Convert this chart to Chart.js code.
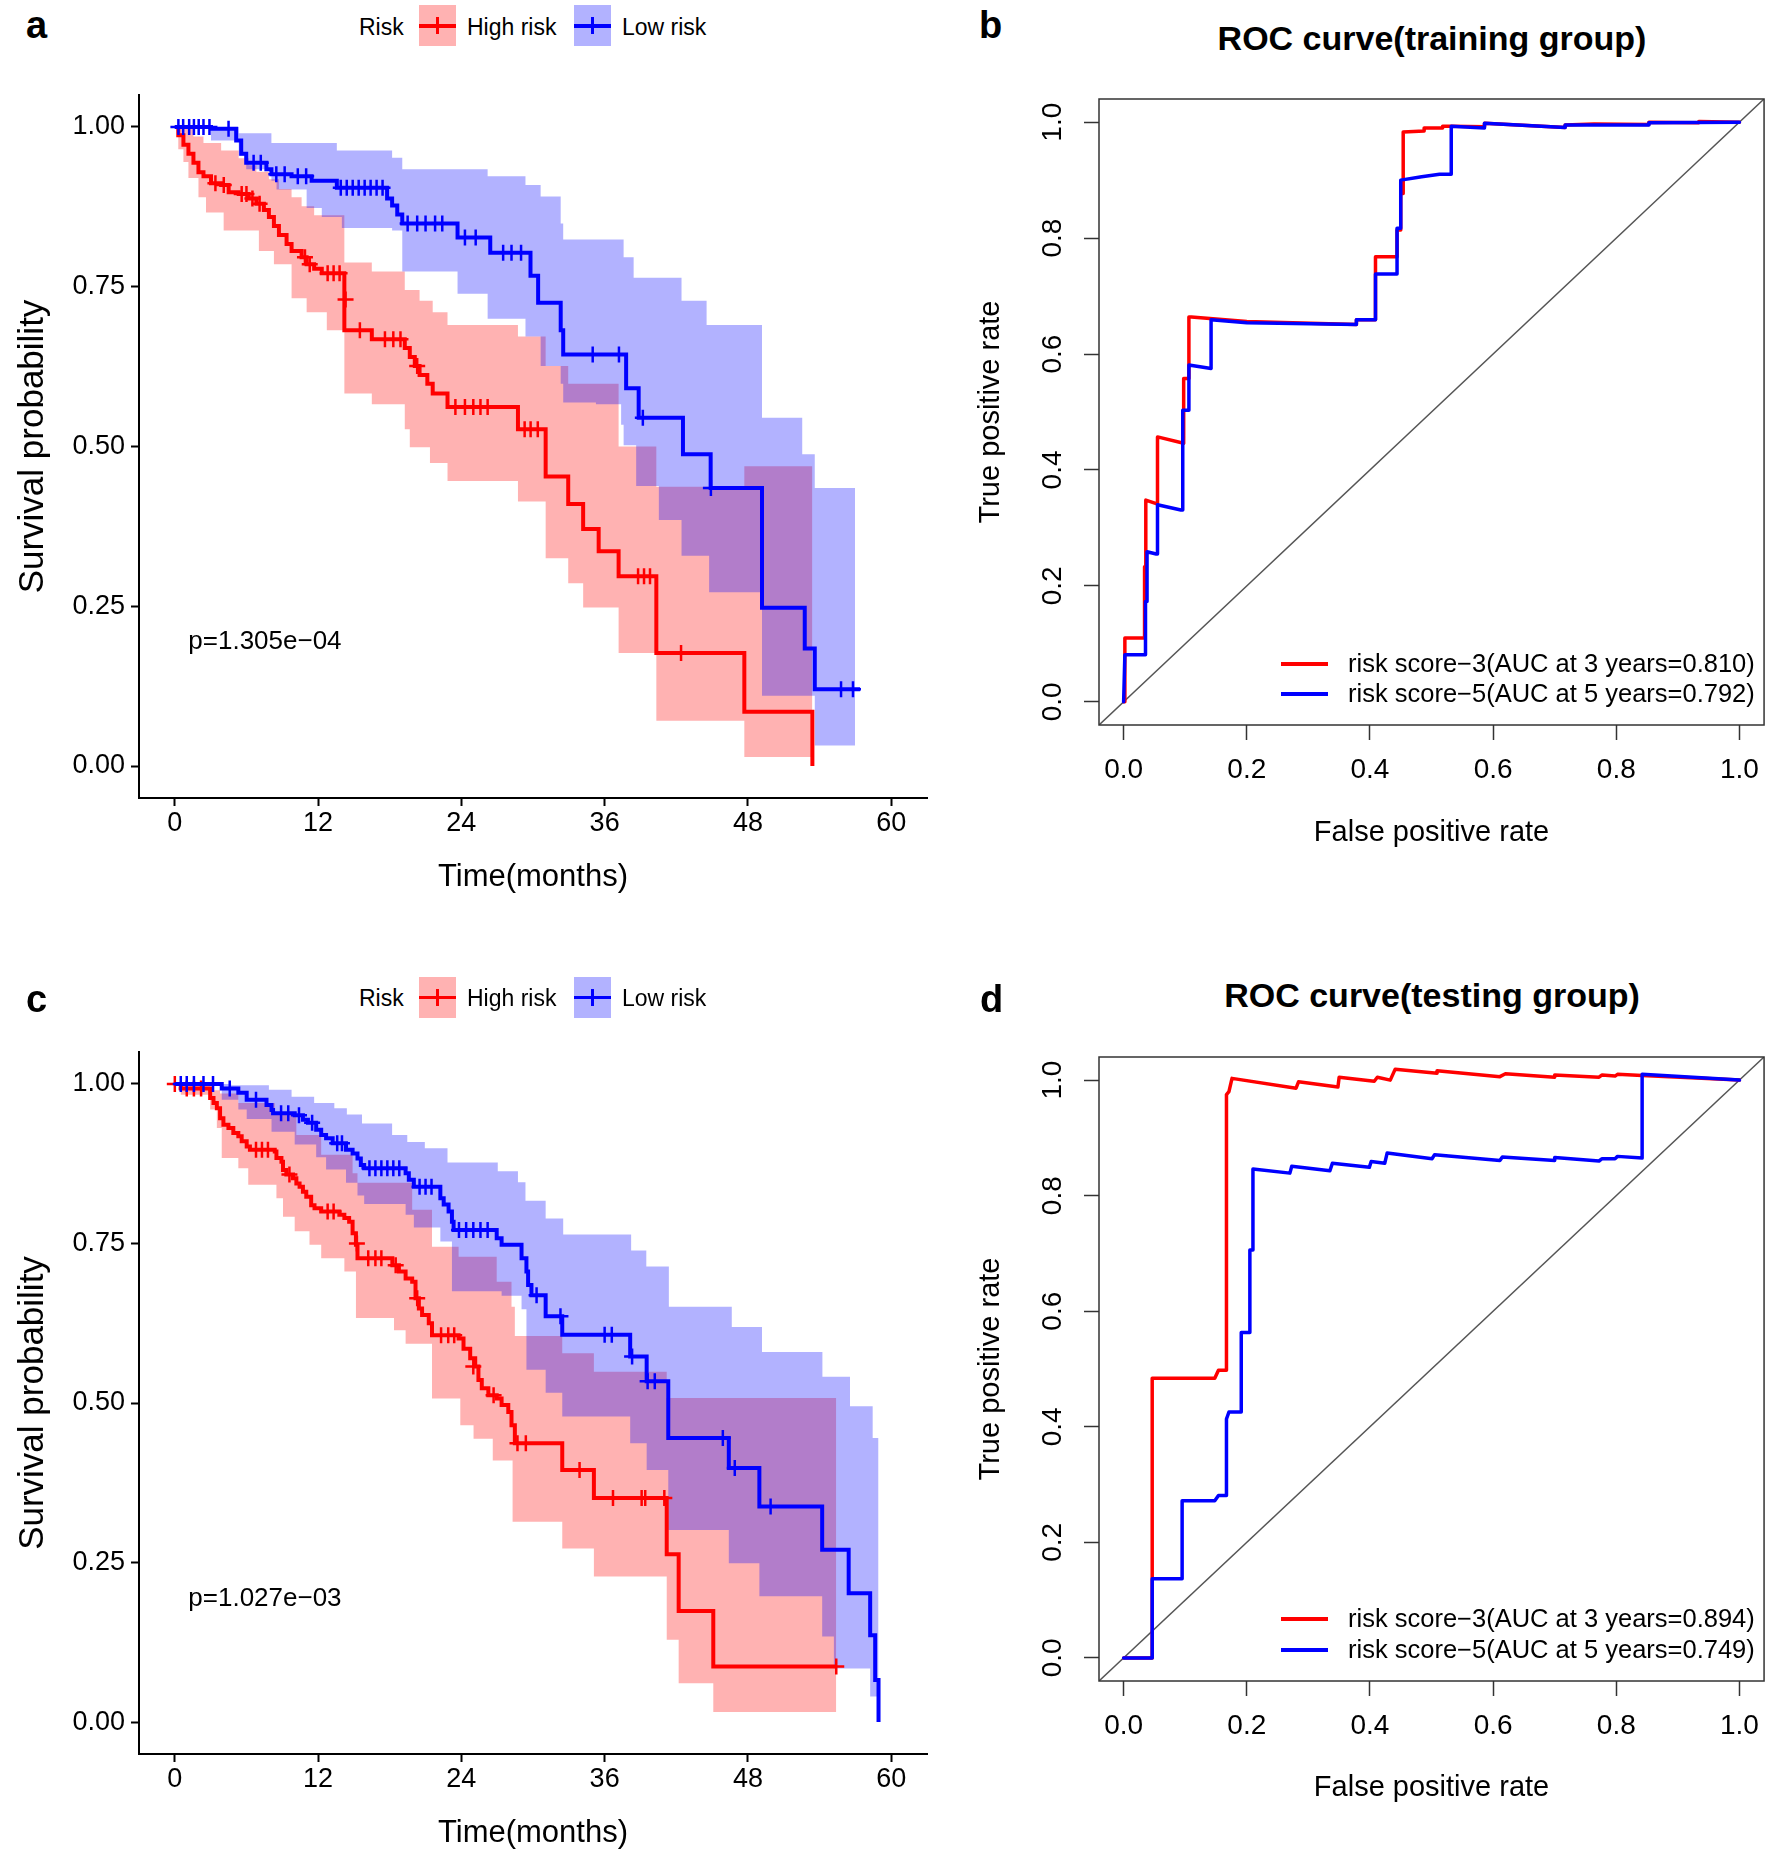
<!DOCTYPE html>
<html>
<head>
<meta charset="utf-8">
<script src="https://cdn.jsdelivr.net/npm/chart.js@4.4.1/dist/chart.umd.min.js"></script>
<style>
html,body{margin:0;padding:0;background:#fff;}
#page{position:relative;width:1772px;height:1858px;overflow:hidden;background:#fff;font-family:"Liberation Sans",Arial,Helvetica,sans-serif;}
canvas{position:absolute;}
.t{position:absolute;white-space:nowrap;line-height:1;color:#000;}
.sw{position:absolute;}
.sw div{position:absolute;}
</style>
</head>
<body>
<div id="page"></div>
<script>
// ---------------- tick marks / labels ----------------
const kmXTicks = [0, 12, 24, 36, 48, 60];
const kmXLabels = ['0', '12', '24', '36', '48', '60'];
const kmYTicks = [0, 0.25, 0.5, 0.75, 1];
const kmYLabels = ['0.00', '0.25', '0.50', '0.75', '1.00'];
const rocTicks = [0, 0.2, 0.4, 0.6, 0.8, 1];
const rocLabels = ['0.0', '0.2', '0.4', '0.6', '0.8', '1.0'];
const kmXRange = [-3, 63];
const kmYRange = [-0.05, 1.05];
const rocRange = [-0.04, 1.04];

// ---------------- text ----------------
const panelLetters = ['a', 'b', 'c', 'd'];
const legendTitle = 'Risk';
const groupNames = ['High risk', 'Low risk'];
const kmXTitle = 'Time(months)';
const kmYTitle = 'Survival probability';
const rocXTitle = 'False positive rate';
const rocYTitle = 'True positive rate';
const rocTitles = ['ROC curve(training group)', 'ROC curve(testing group)'];
const pvalA = { text: 'p=1.305e\u221204', x: 1.13, y: 0.194 };
const pvalC = { text: 'p=1.027e\u221203', x: 1.13, y: 0.193 };
const rocLegendB = ['risk score\u22123(AUC at 3 years=0.810)', 'risk score\u22125(AUC at 5 years=0.792)'];
const rocLegendD = ['risk score\u22123(AUC at 3 years=0.894)', 'risk score\u22125(AUC at 5 years=0.749)'];

// ---------------- panel a : KM (training) [time, survival] ----------------
const aHigh = [[0,1],[0.29,0.987],[0.72,0.972],[1.14,0.958],[1.56,0.944],[1.98,0.929],[2.40,0.923],[3.03,0.912],[3.88,0.909],[4.51,0.898],[5.35,0.895],[6.19,0.888],[6.83,0.880],[7.46,0.870],[7.88,0.859],[8.30,0.845],[8.72,0.831],[9.36,0.817],[9.78,0.806],[10.62,0.796],[11.04,0.785],[11.67,0.778],[12.31,0.771],[14.2,0.682],[16.5,0.668],[19.26,0.654],[19.68,0.640],[20.1,0.626],[20.5,0.612],[21.15,0.598],[21.6,0.583],[22.84,0.562],[28.74,0.527],[31.06,0.453],[32.95,0.410],[34.2,0.371],[35.5,0.336],[37.17,0.297],[40.33,0.177],[47.7,0.085],[53.4,0.0]];
const aHighUpper = [[0,1],[1.56,0.985],[2.4,0.975],[3.88,0.963],[5.35,0.951],[6.19,0.94],[6.83,0.93],[7.88,0.918],[8.72,0.903],[9.78,0.89],[10.62,0.876],[11.67,0.862],[14.2,0.788],[16.5,0.774],[19.26,0.745],[20.5,0.728],[21.6,0.71],[22.84,0.69],[28.74,0.672],[31.06,0.626],[32.95,0.598],[37.17,0.5],[40.33,0.437],[47.7,0.469],[53.4,0.469]];
const aHighLower = [[0,1],[0.29,0.965],[0.72,0.945],[1.14,0.92],[1.98,0.89],[2.61,0.866],[4.09,0.838],[7.04,0.806],[8.3,0.785],[9.78,0.732],[11.04,0.71],[12.73,0.682],[14.2,0.583],[16.5,0.566],[19.26,0.527],[19.68,0.499],[21.37,0.474],[22.84,0.446],[28.74,0.414],[31.06,0.325],[32.95,0.286],[34.2,0.248],[37.17,0.177],[40.33,0.071],[47.7,0.014],[53.4,0.014]];
const aLow = [[0,1],[3.03,0.997],[5.14,0.979],[5.56,0.958],[5.98,0.944],[7.67,0.934],[8.09,0.926],[9.78,0.923],[11.46,0.916],[13.57,0.905],[17.78,0.888],[18.2,0.877],[18.63,0.863],[19.05,0.849],[23.68,0.827],[26.42,0.803],[29.79,0.767],[30.43,0.725],[32.32,0.682],[32.53,0.644],[37.8,0.591],[38.85,0.545],[42.56,0.488],[44.88,0.435],[49.18,0.2475],[52.76,0.184],[53.6,0.12],[57.4,0.12]];
const aLowUpper = [[0,1],[3.03,1],[5.35,0.99],[8.09,0.975],[13.57,0.963],[18.2,0.952],[19.05,0.934],[26.2,0.923],[29.37,0.909],[30.64,0.891],[32.32,0.849],[32.53,0.824],[37.59,0.796],[38.43,0.764],[42.44,0.728],[44.54,0.69],[49.18,0.545],[52.55,0.488],[53.6,0.435],[56.97,0.435]];
const aLowLower = [[0,1],[3.03,0.979],[5.35,0.955],[5.98,0.934],[8.09,0.916],[8.52,0.902],[11.04,0.873],[12.31,0.859],[13.99,0.842],[18.2,0.838],[19.05,0.774],[23.68,0.739],[26.2,0.7],[29.37,0.672],[30.64,0.626],[32.32,0.598],[32.53,0.569],[35.27,0.566],[37.38,0.534],[37.59,0.502],[38.64,0.438],[40.54,0.385],[42.44,0.329],[44.75,0.272],[49.18,0.11],[53.6,0.032],[56.97,0.032]];
const aHighCensor = [[3.4,0.912],[4.1,0.909],[5.6,0.895],[6.0,0.895],[6.5,0.888],[7.1,0.880],[10.9,0.796],[11.3,0.785],[12.8,0.771],[13.3,0.771],[13.8,0.771],[14.3,0.73],[15.5,0.682],[17.6,0.668],[18.3,0.668],[18.9,0.668],[20.3,0.626],[23.5,0.562],[24.3,0.562],[25.0,0.562],[25.6,0.562],[26.2,0.562],[29.3,0.527],[29.8,0.527],[30.4,0.527],[38.8,0.297],[39.3,0.297],[39.8,0.297],[42.4,0.177]];
const aLowCensor = [[0.3,1],[0.7,1],[1.2,1],[1.6,1],[2.0,1],[2.4,1],[2.9,1],[4.5,0.997],[6.6,0.944],[7.2,0.944],[8.5,0.926],[9.2,0.926],[10.3,0.923],[11.0,0.923],[13.9,0.905],[14.4,0.905],[14.9,0.905],[15.4,0.905],[15.9,0.905],[16.4,0.905],[16.9,0.905],[17.4,0.905],[19.5,0.849],[20.3,0.849],[21.0,0.849],[21.8,0.849],[22.4,0.849],[24.3,0.827],[25.2,0.827],[27.5,0.803],[28.2,0.803],[29.0,0.803],[35.0,0.644],[37.2,0.644],[39.2,0.545],[44.9,0.435],[55.8,0.12],[56.8,0.12]];

// ---------------- panel c : KM (testing) [time, survival] ----------------
const cHigh = [[0,1],[0.5,0.993],[2.96,0.978],[3.24,0.970],[3.52,0.962],[3.79,0.946],[4.07,0.936],[4.49,0.931],[4.90,0.923],[5.32,0.918],[5.60,0.910],[6.02,0.902],[6.29,0.897],[8.37,0.894],[8.51,0.884],[8.93,0.878],[9.06,0.865],[9.34,0.858],[9.9,0.852],[10.18,0.844],[10.45,0.839],[10.73,0.831],[11.01,0.823],[11.42,0.810],[11.7,0.805],[12.26,0.800],[13.78,0.795],[14.2,0.790],[14.6,0.784],[14.89,0.766],[15.17,0.748],[15.3,0.727],[18.22,0.716],[18.77,0.706],[19.33,0.695],[19.88,0.690],[20.16,0.664],[20.44,0.648],[20.71,0.638],[21.27,0.625],[21.54,0.606],[23.77,0.601],[24.18,0.585],[24.74,0.570],[25.16,0.557],[25.43,0.536],[25.71,0.523],[26.26,0.512],[26.96,0.507],[27.37,0.497],[27.93,0.486],[28.2,0.465],[28.48,0.437],[32.45,0.395],[35.1,0.351],[41.2,0.263],[42.2,0.174],[45.1,0.087],[55.4,0.087]];
const cHighUpper = [[0,1],[2.96,0.99],[3.79,0.985],[5.32,0.97],[8.37,0.952],[10.18,0.92],[12.26,0.889],[14.89,0.86],[15.3,0.845],[19.88,0.803],[21.54,0.745],[23.77,0.729],[26.96,0.69],[28.2,0.651],[28.48,0.605],[32.45,0.578],[35.1,0.549],[41.2,0.508],[55.4,0.508]];
const cHighLower = [[0,1],[0.5,0.983],[2.96,0.96],[3.52,0.931],[3.93,0.884],[5.32,0.868],[6.15,0.842],[8.51,0.821],[9.06,0.792],[10.04,0.769],[11.28,0.748],[12.26,0.727],[14.2,0.706],[15.17,0.633],[18.36,0.614],[19.33,0.593],[21.54,0.507],[23.91,0.465],[25.02,0.444],[26.63,0.41],[28.29,0.314],[32.45,0.272],[35.1,0.228],[41.2,0.129],[42.2,0.061],[45.1,0.016],[55.4,0.016]];
const cLow = [[0,1],[3.93,0.993],[5.32,0.986],[6.02,0.975],[7.68,0.967],[8.1,0.959],[8.23,0.954],[10.04,0.951],[10.73,0.944],[11.15,0.939],[11.84,0.928],[12.26,0.92],[12.67,0.915],[13.22,0.907],[14.34,0.897],[14.89,0.891],[15.3,0.883],[15.58,0.873],[15.86,0.868],[19.33,0.86],[19.6,0.85],[20.02,0.839],[22.24,0.821],[22.52,0.811],[22.93,0.8],[23.21,0.784],[23.35,0.771],[26.96,0.758],[27.37,0.748],[29.04,0.727],[29.45,0.706],[29.59,0.685],[29.87,0.669],[31.06,0.636],[32.45,0.607],[38.14,0.573],[39.52,0.534],[41.33,0.445],[46.4,0.398],[48.96,0.338],[54.22,0.27],[56.44,0.202],[58.24,0.136],[58.66,0.066],[58.94,0.0]];
const cLowUpper = [[0,1],[4.72,0.998],[7.88,0.991],[9.78,0.98],[11.67,0.97],[13.36,0.962],[14.41,0.952],[15.68,0.938],[18.2,0.92],[19.47,0.909],[20.94,0.899],[22.84,0.877],[27.05,0.863],[28.74,0.846],[29.37,0.817],[31.06,0.789],[32.53,0.764],[38.22,0.739],[39.49,0.714],[41.38,0.651],[46.65,0.619],[49.18,0.58],[54.24,0.541],[56.55,0.495],[58.45,0.445],[58.94,0.445]];
const cLowLower = [[0,1],[3.93,0.975],[5.32,0.96],[6.02,0.945],[8.1,0.925],[10.04,0.905],[11.84,0.885],[12.67,0.866],[14.34,0.845],[15.3,0.825],[15.86,0.812],[19.33,0.795],[20.02,0.775],[22.24,0.753],[23.21,0.675],[27.37,0.668],[29.04,0.647],[29.45,0.552],[31.06,0.516],[32.45,0.479],[38.14,0.437],[39.52,0.395],[41.33,0.301],[46.4,0.249],[48.96,0.197],[54.22,0.134],[55.2,0.084],[58.24,0.04],[58.94,0.04]];
const cHighCensor = [[0,1],[1.0,0.993],[1.6,0.993],[2.2,0.993],[6.8,0.897],[7.3,0.897],[7.8,0.897],[9.6,0.858],[12.8,0.800],[13.3,0.800],[15.25,0.75],[16.2,0.727],[16.8,0.727],[17.3,0.727],[18.5,0.716],[20.3,0.664],[22.3,0.606],[22.9,0.606],[23.4,0.606],[25.0,0.557],[26.7,0.512],[28.7,0.437],[29.4,0.437],[33.9,0.395],[36.7,0.351],[39.1,0.351],[39.4,0.351],[41.0,0.351],[55.4,0.087]];
const cLowCensor = [[0.5,1],[1.0,1],[1.6,1],[2.4,1],[3.2,1],[4.6,0.993],[6.8,0.975],[8.9,0.954],[9.5,0.954],[10.4,0.951],[11.5,0.939],[13.6,0.907],[14.0,0.907],[16.3,0.868],[16.8,0.868],[17.3,0.868],[17.8,0.868],[18.3,0.868],[18.8,0.868],[20.5,0.839],[21.0,0.839],[21.5,0.839],[23.8,0.771],[24.4,0.771],[25.0,0.771],[25.6,0.771],[26.2,0.771],[30.3,0.669],[32.3,0.636],[36.0,0.607],[36.6,0.607],[38.3,0.573],[39.6,0.534],[40.2,0.534],[45.9,0.445],[46.9,0.398],[49.9,0.338]];

// ---------------- panel b : ROC (training) [FPR, TPR] ----------------
const bRoc3 = [[0,0],[0.002,0],[0.002,0.11],[0.034,0.11],[0.034,0.233],[0.036,0.233],[0.036,0.348],[0.053,0.342],[0.055,0.342],[0.055,0.457],[0.0975,0.446],[0.0975,0.558],[0.106,0.558],[0.106,0.664],[0.11,0.664],[0.2,0.656],[0.378,0.651],[0.378,0.659],[0.409,0.659],[0.409,0.768],[0.444,0.768],[0.444,0.814],[0.45,0.814],[0.45,0.877],[0.454,0.877],[0.454,0.983],[0.488,0.985],[0.488,0.99],[0.518,0.99],[0.518,0.993],[0.532,0.993],[0.586,0.992],[0.586,0.998],[0.717,0.991],[0.717,0.995],[0.764,0.997],[0.853,0.996],[0.853,1.0],[0.934,0.999],[0.934,1.001],[1,1]];
const bRoc5 = [[0,0],[0.002,0.081],[0.0355,0.081],[0.0355,0.173],[0.038,0.173],[0.038,0.259],[0.053,0.255],[0.055,0.255],[0.055,0.34],[0.093,0.331],[0.096,0.331],[0.096,0.503],[0.106,0.503],[0.106,0.581],[0.142,0.575],[0.142,0.659],[0.2,0.654],[0.378,0.651],[0.378,0.659],[0.409,0.659],[0.409,0.738],[0.444,0.738],[0.444,0.817],[0.45,0.817],[0.45,0.9],[0.484,0.906],[0.513,0.91],[0.532,0.91],[0.532,0.993],[0.586,0.99],[0.586,0.998],[0.717,0.991],[0.717,0.995],[0.853,0.995],[0.853,0.999],[1,1]];

// ---------------- panel d : ROC (testing) [FPR, TPR] ----------------
const dRoc3 = [[0,0],[0.0464,0],[0.0464,0.484],[0.148,0.484],[0.154,0.498],[0.167,0.498],[0.167,0.975],[0.171,0.98],[0.176,1.003],[0.28,0.986],[0.284,0.997],[0.348,0.988],[0.35,1.005],[0.407,0.998],[0.412,1.005],[0.433,1.0],[0.441,1.019],[0.509,1.012],[0.509,1.016],[0.611,1.006],[0.62,1.011],[0.7,1.005],[0.7,1.009],[0.772,1.005],[0.777,1.009],[0.798,1.007],[0.802,1.01],[0.842,1.008],[1,1]];
const dRoc5 = [[0,0],[0.0464,0],[0.0464,0.137],[0.095,0.137],[0.095,0.272],[0.148,0.272],[0.154,0.281],[0.167,0.281],[0.167,0.4135],[0.171,0.4256],[0.191,0.4256],[0.191,0.563],[0.205,0.563],[0.205,0.706],[0.21,0.706],[0.21,0.846],[0.27,0.839],[0.273,0.851],[0.335,0.843],[0.339,0.856],[0.399,0.849],[0.402,0.859],[0.424,0.856],[0.428,0.874],[0.501,0.864],[0.505,0.871],[0.611,0.861],[0.615,0.867],[0.7,0.861],[0.7,0.866],[0.772,0.86],[0.777,0.864],[0.798,0.864],[0.802,0.868],[0.842,0.865],[0.842,1.01],[1,1]];

// ---------------- styling ----------------
const FONT = '"Liberation Sans", Arial, Helvetica, sans-serif';
const RED = '#FF0000', BLUE = '#0000FF';
const RED_FILL = 'rgba(255,0,0,0.3)', BLUE_FILL = 'rgba(0,0,255,0.3)';
Chart.defaults.font.family = FONT;
Chart.defaults.color = '#000';

const page = document.getElementById('page');
const pts = pairs => pairs.map(p => ({ x: p[0], y: p[1] }));

function makeCanvas(left, top, w, h) {
  const c = document.createElement('canvas');
  c.width = w; c.height = h;
  c.style.left = left + 'px'; c.style.top = top + 'px';
  c.style.width = w + 'px'; c.style.height = h + 'px';
  page.appendChild(c);
  return c;
}

function addText(str, x, y, size, o) {
  o = o || {};
  const d = document.createElement('div');
  d.className = 't';
  d.textContent = str;
  d.style.fontSize = size + 'px';
  d.style.fontWeight = o.weight || 'normal';
  d.style.left = x + 'px';
  const tx = o.align === 'center' ? '-50%' : '0';
  if (o.baseline) {
    d.style.top = (y - 0.8465 * size) + 'px';
    d.style.transform = 'translate(' + tx + ',0)';
  } else {
    d.style.top = y + 'px';
    d.style.transform = 'translate(' + tx + ',-50%)';
  }
  page.appendChild(d);
}

function addSwatch(x, cy, color, fill) {
  const s = document.createElement('div');
  s.className = 'sw';
  s.style.left = x + 'px'; s.style.top = (cy - 20.5) + 'px';
  s.style.width = '37px'; s.style.height = '41px'; s.style.background = fill;
  const h = document.createElement('div');
  h.style.left = '0px'; h.style.top = '18.75px'; h.style.width = '37px'; h.style.height = '3.5px'; h.style.background = color;
  const v = document.createElement('div');
  v.style.left = '17.25px'; v.style.top = '12px'; v.style.width = '2.5px'; v.style.height = '17px'; v.style.background = color;
  s.appendChild(h); s.appendChild(v);
  page.appendChild(s);
}

function addLegendLine(x1, x2, y, color) {
  const l = document.createElement('div');
  l.className = 'sw';
  l.style.left = x1 + 'px'; l.style.top = (y - 1.75) + 'px';
  l.style.width = (x2 - x1) + 'px'; l.style.height = '3.5px'; l.style.background = color;
  page.appendChild(l);
}

const pvalPlugin = {
  id: 'pval',
  afterDatasetsDraw(chart, args, opts) {
    if (!opts || !opts.text) return;
    const { ctx, scales } = chart;
    ctx.save();
    ctx.font = '26px ' + FONT;
    ctx.fillStyle = '#000';
    ctx.textAlign = 'left';
    ctx.textBaseline = 'middle';
    ctx.fillText(opts.text, scales.x.getPixelForValue(opts.x), scales.y.getPixelForValue(opts.y));
    ctx.restore();
  }
};

const boxPlugin = {
  id: 'box',
  afterDraw(chart) {
    const { ctx, chartArea: a } = chart;
    ctx.save();
    ctx.strokeStyle = '#333';
    ctx.lineWidth = 1.5;
    ctx.strokeRect(a.left, a.top, a.right - a.left, a.bottom - a.top);
    ctx.restore();
  }
};

function bandDs(pairs, fillTarget, color, order) {
  return { data: pts(pairs), stepped: true, borderWidth: 0, borderColor: 'rgba(0,0,0,0)',
           pointRadius: 0, fill: fillTarget === null ? false : fillTarget, backgroundColor: color, order: order };
}
function kmLineDs(pairs, color, order) {
  return { data: pts(pairs), stepped: true, borderColor: color, backgroundColor: color, borderWidth: 4,
           pointRadius: 0, fill: false, order: order };
}
function censorDs(pairs, color, order) {
  return { data: pts(pairs), showLine: false, pointStyle: 'cross', pointRadius: 8, pointBorderWidth: 2.5,
           pointBorderColor: color, borderColor: color, backgroundColor: color, fill: false, order: order };
}

function kmChart(s) {
  const cv = makeCanvas(s.left, s.top, s.w, s.h);
  const datasets = [
    bandDs(s.hiU, 1, RED_FILL, 10),
    bandDs(s.hiL, null, RED_FILL, 10),
    bandDs(s.loU, 3, BLUE_FILL, 9),
    bandDs(s.loL, null, BLUE_FILL, 9),
    kmLineDs(s.hi, RED, 5),
    censorDs(s.hiC, RED, 4),
    kmLineDs(s.lo, BLUE, 3),
    censorDs(s.loC, BLUE, 2)
  ];
  new Chart(cv, {
    type: 'line',
    data: { datasets },
    plugins: [pvalPlugin],
    options: {
      responsive: false, animation: false, events: [], devicePixelRatio: 1,
      layout: { padding: s.padding },
      plugins: { legend: { display: false }, tooltip: { enabled: false }, pval: s.pval },
      scales: {
        x: {
          type: 'linear', min: kmXRange[0], max: kmXRange[1],
          afterBuildTicks: sc => { sc.ticks = kmXTicks.map(v => ({ value: v })); },
          ticks: { callback: v => kmXLabels[kmXTicks.indexOf(v)], font: { size: 27 }, color: '#000', padding: 1, maxRotation: 0, minRotation: 0, autoSkip: false },
          grid: { display: true, drawOnChartArea: false, drawTicks: true, tickLength: 8, tickWidth: 2, tickColor: '#000', color: '#000' },
          border: { display: true, color: '#000', width: 2 },
          title: { display: true, text: kmXTitle, font: { size: 31 }, color: '#000', padding: { top: 4, bottom: 4 } },
          afterFit: sc => { sc.height = s.xH; }
        },
        y: {
          type: 'linear', min: kmYRange[0], max: kmYRange[1],
          afterBuildTicks: sc => { sc.ticks = kmYTicks.map(v => ({ value: v })); },
          ticks: { callback: v => kmYLabels[kmYTicks.indexOf(v)], font: { size: 27 }, color: '#000', padding: 6, autoSkip: false },
          grid: { display: true, drawOnChartArea: false, drawTicks: true, tickLength: 8, tickWidth: 2, tickColor: '#000', color: '#000' },
          border: { display: true, color: '#000', width: 2 },
          title: { display: true, text: kmYTitle, font: { size: 35 }, color: '#000', padding: { top: 4, bottom: 4 } },
          afterFit: sc => { sc.width = s.yW; }
        }
      }
    }
  });
}

function rocChart(s) {
  const cv = makeCanvas(s.left, s.top, s.w, s.h);
  const datasets = [
    { data: [{ x: rocRange[0], y: rocRange[0] }, { x: rocRange[1], y: rocRange[1] }], borderColor: '#555', borderWidth: 1.5, pointRadius: 0, fill: false, order: 3 },
    { data: pts(s.r3), borderColor: RED, borderWidth: 3.5, pointRadius: 0, fill: false, order: 2, borderJoinStyle: 'round', borderCapStyle: 'round' },
    { data: pts(s.r5), borderColor: BLUE, borderWidth: 3.5, pointRadius: 0, fill: false, order: 1, borderJoinStyle: 'round', borderCapStyle: 'round' }
  ];
  new Chart(cv, {
    type: 'line',
    data: { datasets },
    plugins: [boxPlugin],
    options: {
      responsive: false, animation: false, events: [], devicePixelRatio: 1,
      layout: { padding: s.padding },
      plugins: { legend: { display: false }, tooltip: { enabled: false } },
      scales: {
        x: {
          type: 'linear', min: rocRange[0], max: rocRange[1],
          afterBuildTicks: sc => { sc.ticks = rocTicks.map(v => ({ value: v })); },
          ticks: { callback: v => rocLabels[rocTicks.indexOf(v)], font: { size: 28 }, color: '#000', padding: 13, maxRotation: 0, minRotation: 0, autoSkip: false },
          grid: { display: true, drawOnChartArea: false, drawTicks: true, tickLength: 15, tickWidth: 1.5, tickColor: '#333', color: '#333' },
          border: { display: false },
          title: { display: true, text: rocXTitle, font: { size: 29 }, color: '#000', padding: { top: 4, bottom: 4 } },
          afterFit: sc => { sc.height = s.xH; }
        },
        y: {
          type: 'linear', min: rocRange[0], max: rocRange[1],
          afterBuildTicks: sc => { sc.ticks = rocTicks.map(v => ({ value: v })); },
          ticks: { callback: v => rocLabels[rocTicks.indexOf(v)], font: { size: 28 }, color: '#000', padding: 11.5, minRotation: 90, maxRotation: 90, crossAlign: 'center', autoSkip: false },
          grid: { display: true, drawOnChartArea: false, drawTicks: true, tickLength: 15, tickWidth: 1.5, tickColor: '#333', color: '#333' },
          border: { display: false },
          title: { display: true, text: rocYTitle, font: { size: 29 }, color: '#000', padding: { top: 4, bottom: 4 } },
          afterFit: sc => { sc.width = s.yW; }
        }
      }
    }
  });
}

// ---------------- build panels ----------------
kmChart({ left: 0, top: 60, w: 950, h: 860, padding: { left: 8, top: 35, right: 23, bottom: 20.4 }, xH: 101.6, yW: 131,
  hi: aHigh, hiU: aHighUpper, hiL: aHighLower, lo: aLow, loU: aLowUpper, loL: aLowLower, hiC: aHighCensor, loC: aLowCensor, pval: pvalA });
kmChart({ left: 0, top: 1017, w: 950, h: 840, padding: { left: 8, top: 35, right: 23, bottom: 1.4 }, xH: 101.6, yW: 131,
  hi: cHigh, hiU: cHighUpper, hiL: cHighLower, lo: cLow, loU: cLowUpper, loL: cLowLower, hiC: cHighCensor, loC: cLowCensor, pval: pvalC });
rocChart({ left: 950, top: 60, w: 822, h: 840, padding: { left: 19.6, top: 39, right: 3, bottom: 45.6 }, xH: 129.4, yW: 129.4, r3: bRoc3, r5: bRoc5 });
rocChart({ left: 950, top: 1018, w: 822, h: 840, padding: { left: 19.6, top: 39, right: 3, bottom: 48.6 }, xH: 128.4, yW: 129.4, r3: dRoc3, r5: dRoc5 });

// ---------------- overlay texts & legends ----------------
addText(panelLetters[0], 26, 38, 38, { weight: 'bold', baseline: true });
addText(panelLetters[1], 979, 38, 38, { weight: 'bold', baseline: true });
addText(panelLetters[2], 26, 1012, 38, { weight: 'bold', baseline: true });
addText(panelLetters[3], 980, 1012, 38, { weight: 'bold', baseline: true });

addText(rocTitles[0], 1432, 38, 34, { weight: 'bold', align: 'center' });
addText(rocTitles[1], 1432, 995, 34, { weight: 'bold', align: 'center' });

[[26.7, 25.8], [998.3, 997.5]].forEach(([ty, sy]) => {
  addText(legendTitle, 359, ty, 23);
  addSwatch(419, sy, RED, RED_FILL);
  addText(groupNames[0], 467, ty, 23);
  addSwatch(574, sy, BLUE, BLUE_FILL);
  addText(groupNames[1], 622, ty, 23);
});

[[rocLegendB, 664, 694], [rocLegendD, 1619, 1650]].forEach(([txt, y1, y2]) => {
  addLegendLine(1281, 1328, y1, RED);
  addText(txt[0], 1348, y1, 25.5);
  addLegendLine(1281, 1328, y2, BLUE);
  addText(txt[1], 1348, y2, 25.5);
});
</script>
</body>
</html>
